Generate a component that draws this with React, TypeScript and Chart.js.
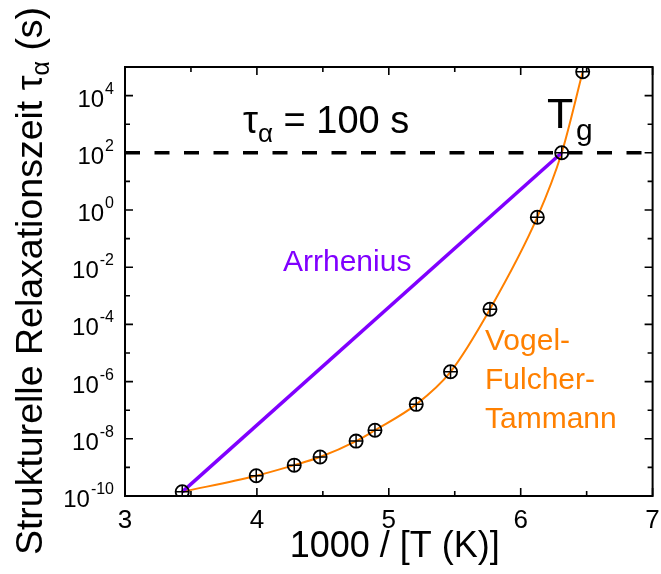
import React, { useEffect, useRef } from "react";
import { Chart, registerables } from "chart.js";

Chart.register(...registerables);

// Measured relaxation times vs. inverse temperature
const inverseTemperature = [3.434, 3.995, 4.283, 4.479, 4.752, 4.895, 5.208, 5.468, 5.767, 6.126, 6.311, 6.47];
const relaxationTime = [1.4e-10, 5.1e-10, 1.2e-9, 2.3e-9, 8.3e-9, 2.0e-8, 1.6e-7, 2.2e-6, 3.4e-4, 0.56, 100, 6.8e4];

// Arrhenius reference line between the first point and Tg
const arrheniusX = [3.434, 6.311];
const arrheniusY = [1.4e-10, 100];

// Glass transition level tau = 100 s
const glassLevelX = [3, 7];
const glassLevelY = [100, 100];

// Axis ticks
const xTickValues = [3, 4, 5, 6, 7];
const xTickLabels = ["3", "4", "5", "6", "7"];
const xMinorTicks = [3.5, 4.5, 5.5, 6.5];
const yLabelExponents = [-10, -8, -6, -4, -2, 0, 2, 4];
const yDecadeExponents = [-10, -9, -8, -7, -6, -5, -4, -3, -2, -1, 0, 1, 2, 3, 4, 5];

const FONT = '"Liberation Sans", Arial, Helvetica, sans-serif';
const ORANGE = "#ff8000";
const PURPLE = "#8000ff";

function pairs(xs: number[], ys: number[]) {
  return xs.map((x, i) => ({ x, y: ys[i] }));
}

const framePlugin = {
  id: "frameAndText",
  afterDatasetsDraw(chart: any) {
    const ctx: CanvasRenderingContext2D = chart.ctx;
    const { left, right, top, bottom } = chart.chartArea;
    const xs = chart.scales.x;
    const ys = chart.scales.y;
    ctx.save();

    // frame
    ctx.strokeStyle = "#000";
    ctx.lineWidth = 2;
    ctx.strokeRect(left, top, right - left, bottom - top);

    // inward ticks on all four sides
    ctx.lineWidth = 1.6;
    ctx.beginPath();
    const xTick = (v: number, len: number) => {
      const px = xs.getPixelForValue(v);
      ctx.moveTo(px, bottom);
      ctx.lineTo(px, bottom - len);
      ctx.moveTo(px, top);
      ctx.lineTo(px, top + len);
    };
    xTickValues.forEach((v) => xTick(v, 8));
    xMinorTicks.forEach((v) => xTick(v, 5));
    yDecadeExponents.forEach((e) => {
      const py = ys.getPixelForValue(Math.pow(10, e));
      const len = e % 2 === 0 ? 8 : 5;
      ctx.moveTo(left, py);
      ctx.lineTo(left + len, py);
      ctx.moveTo(right, py);
      ctx.lineTo(right - len, py);
    });
    ctx.stroke();

    ctx.fillStyle = "#000";
    ctx.textBaseline = "alphabetic";

    // x tick labels
    ctx.font = `26px ${FONT}`;
    ctx.textAlign = "center";
    xTickValues.forEach((v, i) => {
      ctx.fillText(xTickLabels[i], xs.getPixelForValue(v), bottom + 32);
    });

    // y tick labels 10^e
    ctx.textAlign = "left";
    yLabelExponents.forEach((e) => {
      const py = ys.getPixelForValue(Math.pow(10, e));
      const sup = String(e);
      ctx.font = `16px ${FONT}`;
      const ws = ctx.measureText(sup).width;
      ctx.font = `24px ${FONT}`;
      const wb = ctx.measureText("10").width;
      const xEnd = 114;
      ctx.fillText("10", xEnd - ws - wb - 1, py + 11);
      ctx.font = `16px ${FONT}`;
      ctx.fillText(sup, xEnd - ws, py - 2);
    });

    // x axis title
    ctx.font = `36px ${FONT}`;
    ctx.textAlign = "center";
    ctx.fillText("1000 / [T (K)]", (left + right) / 2 + 6, 557);

    // y axis title (rotated)
    ctx.save();
    ctx.translate(42, 281);
    ctx.rotate(-Math.PI / 2);
    ctx.textAlign = "left";
    const p1 = "Strukturelle Relaxationszeit \u03c4";
    const p2 = "\u03b1";
    const p3 = " (s)";
    ctx.font = `37.5px ${FONT}`;
    const w1 = ctx.measureText(p1).width;
    const w3 = ctx.measureText(p3).width;
    ctx.font = `25px ${FONT}`;
    const w2 = ctx.measureText(p2).width;
    let x0 = -(w1 + w2 + w3) / 2;
    ctx.font = `37.5px ${FONT}`;
    ctx.fillText(p1, x0, 0);
    x0 += w1;
    ctx.font = `25px ${FONT}`;
    ctx.fillText(p2, x0, 7);
    x0 += w2;
    ctx.font = `37.5px ${FONT}`;
    ctx.fillText(p3, x0, 0);
    ctx.restore();

    // tau_alpha = 100 s
    ctx.textAlign = "left";
    let tx = 243;
    ctx.font = `38px ${FONT}`;
    ctx.fillText("\u03c4", tx, 133);
    tx += ctx.measureText("\u03c4").width;
    ctx.font = `26px ${FONT}`;
    ctx.fillText("\u03b1", tx, 142);
    tx += ctx.measureText("\u03b1").width;
    ctx.font = `38px ${FONT}`;
    ctx.fillText(" = 100 s", tx, 133);

    // Tg
    ctx.font = `43px ${FONT}`;
    ctx.fillText("T", 547, 128);
    ctx.font = `30px ${FONT}`;
    ctx.fillText("g", 576, 140);

    // curve labels
    ctx.font = `30px ${FONT}`;
    ctx.fillStyle = PURPLE;
    ctx.fillText("Arrhenius", 283, 271);
    ctx.fillStyle = ORANGE;
    ctx.fillText("Vogel-", 485, 350);
    ctx.fillText("Fulcher-", 485, 389);
    ctx.fillText("Tammann", 485, 428);

    ctx.restore();
  },
};

export default function App() {
  const canvasRef = useRef<HTMLCanvasElement | null>(null);

  useEffect(() => {
    if (!canvasRef.current) return;
    const measured = pairs(inverseTemperature, relaxationTime);
    const chart = new Chart(canvasRef.current, {
      type: "line",
      data: {
        datasets: [
          {
            label: "Messpunkte (Kreuz)",
            data: measured,
            showLine: false,
            pointStyle: "cross",
            pointRadius: 6.6,
            pointBorderColor: "#000",
            pointBorderWidth: 1.5,
            clip: 0,
          },
          {
            label: "Messpunkte (Kreis)",
            data: measured,
            showLine: false,
            pointStyle: "circle",
            pointRadius: 6.6,
            pointBackgroundColor: "rgba(0,0,0,0)",
            pointBorderColor: "#000",
            pointBorderWidth: 1.8,
            clip: 0,
          },
          {
            label: "Arrhenius",
            data: pairs(arrheniusX, arrheniusY),
            borderColor: PURPLE,
            borderWidth: 3.5,
            pointRadius: 0,
            clip: 0,
          },
          {
            label: "Vogel-Fulcher-Tammann",
            data: measured,
            borderColor: ORANGE,
            borderWidth: 2,
            pointRadius: 0,
            cubicInterpolationMode: "monotone",
            clip: 0,
          },
          {
            label: "tau = 100 s",
            data: pairs(glassLevelX, glassLevelY),
            borderColor: "#000",
            borderWidth: 3.5,
            borderDash: [15, 14.5],
            pointRadius: 0,
            clip: 0,
          },
        ],
      },
      options: {
        animation: false,
        responsive: true,
        maintainAspectRatio: false,
        events: [],
        layout: { padding: { left: 125, right: 4, top: 67, bottom: 78 } },
        scales: {
          x: { type: "linear", min: 3, max: 7, display: false },
          y: { type: "logarithmic", min: 1e-10, max: 1e5, display: false },
        },
        plugins: { legend: { display: false }, tooltip: { enabled: false } },
      },
      plugins: [framePlugin],
    });
    return () => chart.destroy();
  }, []);

  return (
    <div style={{ position: "fixed", left: 0, top: 0, width: 661, height: 574, background: "#fff" }}>
      <canvas ref={canvasRef} />
    </div>
  );
}
